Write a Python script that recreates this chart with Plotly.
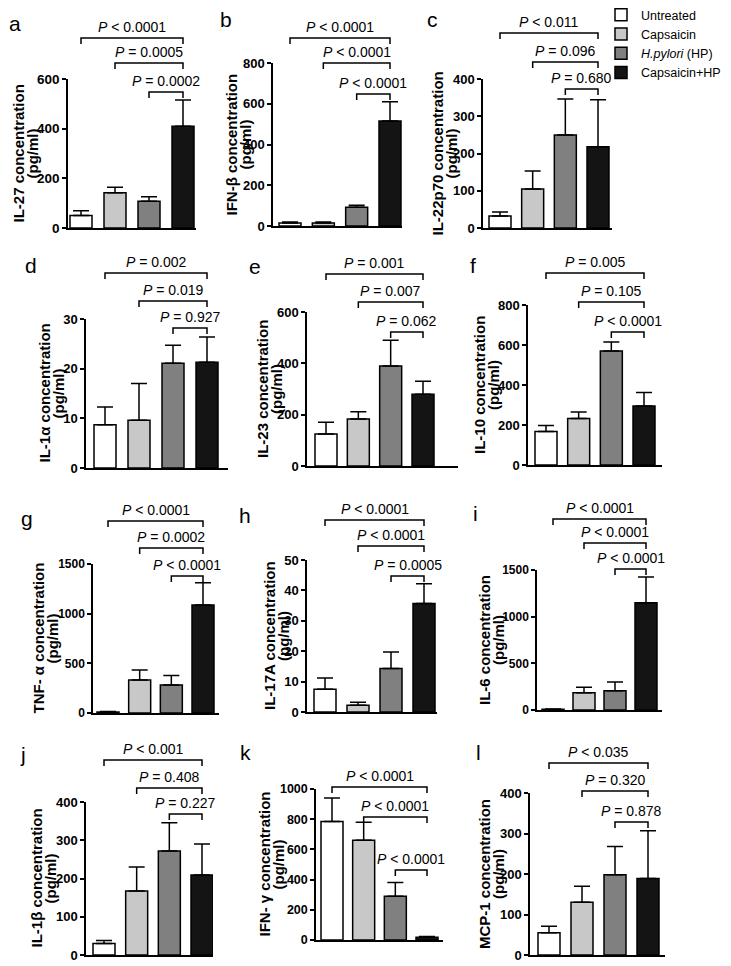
import plotly.graph_objects as go

W, H = 731, 966
FONT = "Liberation Sans, Arial, sans-serif"

# ---------------- data ----------------
groups = ["Untreated", "Capsaicin", "<i>H.pylori</i> (HP)", "Capsaicin+HP"]
bar_colors = ["#ffffff", "#c8c8c8", "#808080", "#141414"]

letters = ["a", "b", "c", "d", "e", "f", "g", "h", "i", "j", "k", "l"]
cytokines = ["IL-27", "IFN-β", "IL-22p70", "IL-1α", "IL-23", "IL-10",
             "TNF- α", "IL-17A", "IL-6", "IL-1β", "IFN- γ", "MCP-1"]

il27_mean = [50, 142, 108, 410]
il27_sem = [19, 22, 18, 105]
il27_ticks = [0, 200, 400, 600]

ifnb_mean = [15, 15, 92, 515]
ifnb_sem = [5, 5, 10, 95]
ifnb_ticks = [0, 200, 400, 600, 800]

il22_mean = [32, 105, 250, 218]
il22_sem = [11, 48, 96, 126]
il22_ticks = [0, 100, 200, 300, 400]

il1a_mean = [8.7, 9.6, 21.1, 21.3]
il1a_sem = [3.6, 7.4, 3.6, 5.1]
il1a_ticks = [0, 10, 20, 30]

il23_mean = [125, 183, 390, 280]
il23_sem = [45, 28, 100, 50]
il23_ticks = [0, 200, 400, 600]

il10_mean = [167, 233, 570, 295]
il10_sem = [30, 32, 45, 67]
il10_ticks = [0, 200, 400, 600, 800]

tnfa_mean = [10, 333, 283, 1088]
tnfa_sem = [4, 100, 94, 222]
tnfa_ticks = [0, 500, 1000, 1500]

il17_mean = [7.5, 2.2, 14.3, 35.7]
il17_sem = [3.7, 1.0, 5.4, 6.5]
il17_ticks = [0, 10, 20, 30, 40, 50]

il6_mean = [8, 186, 207, 1150]
il6_sem = [3, 57, 93, 275]
il6_ticks = [0, 500, 1000, 1500]

il1b_mean = [30, 167, 272, 209]
il1b_sem = [8, 63, 74, 81]
il1b_ticks = [0, 100, 200, 300, 400]

ifng_mean = [785, 660, 290, 18]
ifng_sem = [155, 120, 90, 5]
ifng_ticks = [0, 200, 400, 600, 800, 1000]

mcp1_mean = [55, 130, 198, 189]
mcp1_sem = [16, 40, 70, 118]
mcp1_ticks = [0, 100, 200, 300, 400]

# P values: comparisons (Untreated vs C+HP), (Capsaicin vs C+HP), (HP vs C+HP)
comparisons = [(0, 3), (1, 3), (2, 3)]
pvals = {
    "a": ["&lt; 0.0001", "= 0.0005", "= 0.0002"],
    "b": ["&lt; 0.0001", "&lt; 0.0001", "&lt; 0.0001"],
    "c": ["&lt; 0.011", "= 0.096", "= 0.680"],
    "d": ["= 0.002", "= 0.019", "= 0.927"],
    "e": ["= 0.001", "= 0.007", "= 0.062"],
    "f": ["= 0.005", "= 0.105", "&lt; 0.0001"],
    "g": ["&lt; 0.0001", "= 0.0002", "&lt; 0.0001"],
    "h": ["&lt; 0.0001", "&lt; 0.0001", "= 0.0005"],
    "i": ["&lt; 0.0001", "&lt; 0.0001", "&lt; 0.0001"],
    "j": ["&lt; 0.001", "= 0.408", "= 0.227"],
    "k": ["&lt; 0.0001", "&lt; 0.0001", "&lt; 0.0001"],
    "l": ["&lt; 0.035", "= 0.320", "= 0.878"],
}

means = [il27_mean, ifnb_mean, il22_mean, il1a_mean, il23_mean, il10_mean,
         tnfa_mean, il17_mean, il6_mean, il1b_mean, ifng_mean, mcp1_mean]
sems = [il27_sem, ifnb_sem, il22_sem, il1a_sem, il23_sem, il10_sem,
        tnfa_sem, il17_sem, il6_sem, il1b_sem, ifng_sem, mcp1_sem]
ticks = [il27_ticks, ifnb_ticks, il22_ticks, il1a_ticks, il23_ticks, il10_ticks,
         tnfa_ticks, il17_ticks, il6_ticks, il1b_ticks, ifng_ticks, mcp1_ticks]

# ---------------- layout geometry (pixels) ----------------
# xl, first bar centre, last bar centre, xr, top-tick y, zero y, title centre x, letter pos,
# bracket rows, tick font size
geom = {
    "a": dict(xl=68, c0=81, c3=183, xr=196, yt=79, y0=228, tcx=25, let=(15, 23), rows=(38, 63, 92), tfs=13.5),
    "b": dict(xl=273, c0=290, c3=390, xr=402, yt=63, y0=226, tcx=238, let=(226, 20), rows=(38, 63, 94), tfs=13),
    "c": dict(xl=483, c0=500, c3=598, xr=612, yt=79, y0=228, tcx=444, let=(432, 20), rows=(33, 62, 89), tfs=13),
    "d": dict(xl=86, c0=105, c3=207, xr=228, yt=319, y0=468, tcx=51, let=(31, 265), rows=(273, 301, 328), tfs=13),
    "e": dict(xl=307, c0=326, c3=423, xr=458, yt=312, y0=466, tcx=269, let=(255, 266), rows=(274, 302, 332), tfs=13),
    "f": dict(xl=528, c0=546, c3=644, xr=662, yt=305, y0=465, tcx=486, let=(473, 265), rows=(273, 302, 332), tfs=13),
    "g": dict(xl=93, c0=108, c3=203, xr=219, yt=564, y0=713, tcx=45, let=(27, 518), rows=(521, 548, 576), tfs=12),
    "h": dict(xl=307, c0=325, c3=424, xr=437, yt=560, y0=712, tcx=276, let=(245, 515), rows=(520, 546, 576), tfs=13),
    "i": dict(xl=537, c0=553, c3=646, xr=662, yt=570, y0=710, tcx=491, let=(475, 513), rows=(519, 543, 569), tfs=12),
    "j": dict(xl=86, c0=104, c3=202, xr=213, yt=802, y0=955, tcx=43, let=(23, 754), rows=(760, 788, 814), tfs=13),
    "k": dict(xl=316, c0=332, c3=427, xr=443, yt=789, y0=940, tcx=271, let=(245, 752), rows=(787, 817, 870), tfs=12.5),
    "l": dict(xl=530, c0=549, c3=648, xr=665, yt=793, y0=955, tcx=491, let=(478, 752), rows=(763, 791, 822), tfs=13),
}


def px(x):
    return x / W


def py(y):
    return 1 - y / H


fig = go.Figure()
layout = {}
shapes = []
annots = []
xs = list(range(len(groups)))

for k, L in enumerate(letters):
    g = geom[L]
    n = k + 1
    xa = "x" if n == 1 else f"x{n}"
    ya = "y" if n == 1 else f"y{n}"
    spacing = (g["c3"] - g["c0"]) / 3.0
    xr = [-(g["c0"] - g["xl"]) / spacing, 3 + (g["xr"] - g["c3"]) / spacing]
    for j in range(len(groups)):
        fig.add_trace(go.Bar(
            x=[xs[j]], y=[means[k][j]], width=22 / spacing,
            marker=dict(color=bar_colors[j], line=dict(color="black", width=1.5)),
            error_y=dict(type="data", array=[sems[k][j]], arrayminus=[0], symmetric=False,
                         color="black", thickness=1.5, width=8),
            name=groups[j], showlegend=(k == 0), xaxis=xa, yaxis=ya,
            hoverinfo="skip",
        ))
    layout["xaxis" if n == 1 else f"xaxis{n}"] = dict(
        domain=[px(g["xl"]), px(g["xr"])], range=xr, anchor=ya, automargin=False,
        showline=True, linecolor="black", linewidth=1.5, ticks="",
        showticklabels=False, showgrid=False, zeroline=False, fixedrange=True)
    layout["yaxis" if n == 1 else f"yaxis{n}"] = dict(
        domain=[py(g["y0"]), py(g["yt"])], range=[0, ticks[k][-1]], anchor=xa, automargin=False,
        showline=True, linecolor="black", linewidth=1.5, ticks="outside",
        ticklen=4, tickwidth=1.5, tickcolor="black", tickvals=ticks[k],
        tickfont=dict(family=FONT, size=g["tfs"], color="black", weight="bold"),
        showgrid=False, zeroline=False, fixedrange=True)

    # brackets + p values
    for (a, b), row, pv in zip(comparisons, g["rows"], pvals[L]):
        yl = py(row)
        yt = py(row + 6)
        shapes.append(dict(type="path", xref=xa, yref="paper",
                           path=f"M {xs[a]},{yt} L {xs[a]},{yl} L {xs[b]},{yl} L {xs[b]},{yt}",
                           line=dict(color="black", width=1.5)))
        annots.append(dict(xref=xa, yref="paper", x=(xs[a] + xs[b]) / 2, y=py(row - 1),
                           xanchor="center", yanchor="bottom", showarrow=False,
                           text=f"<i>P</i> {pv}",
                           font=dict(family=FONT, size=14, color="black")))
    # y title (two lines)
    yc = py((g["y0"] + g["yt"]) / 2)
    annots.append(dict(xref="paper", yref="paper", x=px(g["tcx"] - 7), y=yc,
                       textangle=-90, showarrow=False, xanchor="center", yanchor="middle",
                       text=f"<b>{cytokines[k]} concentration</b>",
                       font=dict(family=FONT, size=15, color="black")))
    annots.append(dict(xref="paper", yref="paper", x=px(g["tcx"] + 7), y=yc,
                       textangle=-90, showarrow=False, xanchor="center", yanchor="middle",
                       text="<b>(pg/ml)</b>",
                       font=dict(family=FONT, size=15, color="black")))
    # panel letter
    annots.append(dict(xref="paper", yref="paper", x=px(g["let"][0]), y=py(g["let"][1]),
                       xanchor="center", yanchor="middle", showarrow=False, text=L,
                       font=dict(family=FONT, size=21, color="black")))

fig.update_layout(
    width=W, height=H, margin=dict(l=0, r=0, t=0, b=0, autoexpand=False),
    paper_bgcolor="white", plot_bgcolor="white",
    barmode="overlay", showlegend=True,
    legend=dict(x=px(601), y=py(-3), xref="container", yref="container",
                xanchor="left", yanchor="top",
                font=dict(family=FONT, size=12.5, color="black"),
                bgcolor="rgba(0,0,0,0)", tracegroupgap=0, traceorder="normal"),
    shapes=shapes, annotations=annots,
    **layout,
)

fig.write_html("out.html", config={"displayModeBar": False},
               post_script="document.body.style.margin='0';document.body.style.padding='0';")
